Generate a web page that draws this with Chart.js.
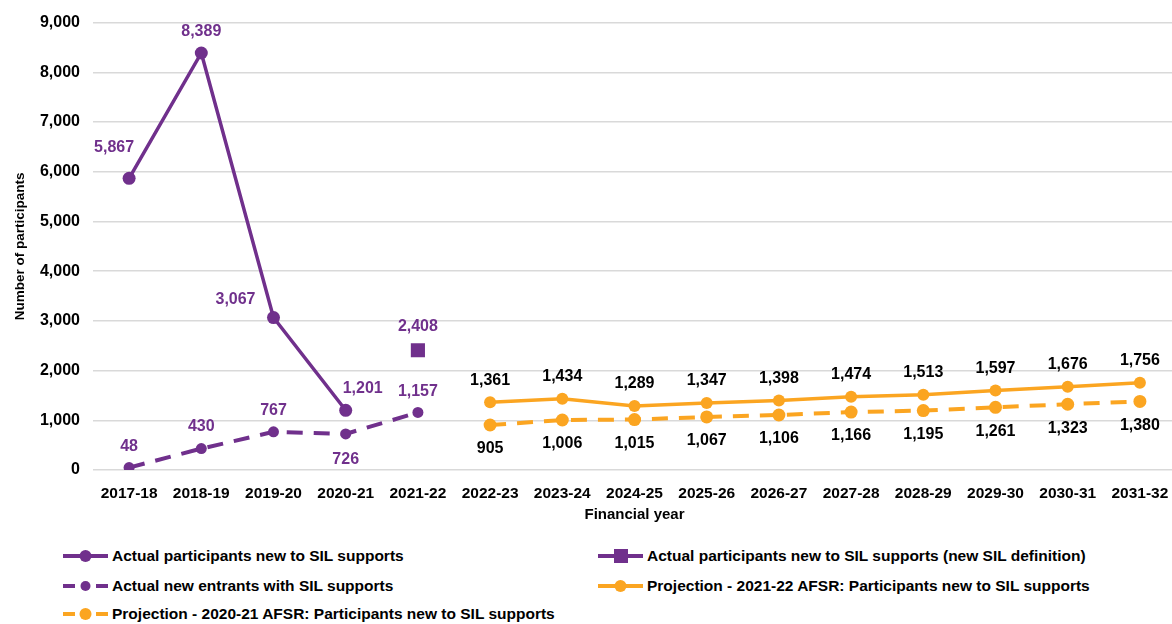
<!DOCTYPE html>
<html>
<head>
<meta charset="utf-8">
<script src="https://cdn.jsdelivr.net/npm/chart.js@4.4.0/dist/chart.umd.min.js"></script>
<style>
  body { margin: 0; background: #fff; font-family: "Liberation Sans", Arial, sans-serif; overflow: hidden; }
  #wrap { position: relative; width: 1172px; height: 624px; overflow: hidden; }
  #chart { position: absolute; left: 0; top: 0; }
  #legend { position: absolute; left: 0; top: 543px; width: 1172px; }
  .item { position: absolute; display: flex; align-items: center; font-weight: bold; font-size: 15.5px; color: #000; white-space: nowrap; }
  .item svg { margin-right: 4px; }
</style>
</head>
<body>
<div id="wrap">
  <canvas id="chart" width="1186" height="530"></canvas>
  <div id="legend"></div>
</div>
<script>
const years = ["2017-18", "2018-19", "2019-20", "2020-21", "2021-22", "2022-23", "2023-24", "2024-25",
  "2025-26", "2026-27", "2027-28", "2028-29", "2029-30", "2030-31", "2031-32"];
const actualNew = [5867, 8389, 3067, 1201, null, null, null, null, null, null, null, null, null, null, null];
const actualNewDef = [null, null, null, null, 2408, null, null, null, null, null, null, null, null, null, null];
const actualEntrants = [48, 430, 767, 726, 1157, null, null, null, null, null, null, null, null, null, null];
const proj2122 = [null, null, null, null, null, 1361, 1434, 1289, 1347, 1398, 1474, 1513, 1597, 1676, 1756];
const proj2021 = [null, null, null, null, null, 905, 1006, 1015, 1067, 1106, 1166, 1195, 1261, 1323, 1380];

const purple = "#70308C";
const orange = "#FBA521";

// label offsets (dx, dy) per point, per dataset
const labelPos = [
  [[-15, -31], [0, -21], [-38, -18], [17, -22]],
  [null, null, null, null, [0, -24]],
  [[0, -21], [0, -22], [0, -21], [0, 26], [0, -21]],
  "above",
  "below"
];

const pointLabels = {
  id: "pointLabels",
  afterDatasetsDraw(chart) {
    const ctx = chart.ctx;
    ctx.save();
    ctx.font = "bold 16px 'Liberation Sans', Arial, sans-serif";
    ctx.textAlign = "center";
    ctx.textBaseline = "middle";
    chart.data.datasets.forEach((ds, di) => {
      const meta = chart.getDatasetMeta(di);
      ctx.fillStyle = di < 3 ? purple : "#000";
      ds.data.forEach((v, i) => {
        if (v == null) return;
        const pt = meta.data[i];
        let off;
        const p = labelPos[di];
        if (p === "above") off = [0, -22];
        else if (p === "below") off = [0, 24];
        else off = p[i] || [0, -22];
        ctx.fillText(v.toLocaleString("en-US"), pt.x + off[0], pt.y + off[1]);
      });
    });
    ctx.restore();
  }
};

const chart = new Chart(document.getElementById("chart"), {
  type: "line",
  data: {
    labels: years,
    datasets: [
      {
        label: "Actual participants new to SIL supports",
        data: actualNew,
        borderColor: purple, backgroundColor: purple,
        borderWidth: 3.5, pointRadius: 6.5, pointBorderWidth: 0, pointStyle: "circle"
      },
      {
        label: "Actual participants new to SIL supports (new SIL definition)",
        data: actualNewDef,
        borderColor: purple, backgroundColor: purple,
        borderWidth: 3.5, pointRadius: 10, pointBorderWidth: 0, pointStyle: "rect"
      },
      {
        label: "Actual new entrants with SIL supports",
        data: actualEntrants,
        borderColor: purple, backgroundColor: purple,
        borderWidth: 4, borderDash: [16, 11], pointRadius: 5.5, pointBorderWidth: 0, pointStyle: "circle"
      },
      {
        label: "Projection - 2021-22 AFSR: Participants new to SIL supports",
        data: proj2122,
        borderColor: orange, backgroundColor: orange,
        borderWidth: 3.5, pointRadius: 6, pointBorderWidth: 0, pointStyle: "circle"
      },
      {
        label: "Projection - 2020-21 AFSR: Participants new to SIL supports",
        data: proj2021,
        borderColor: orange, backgroundColor: orange,
        borderWidth: 4, borderDash: [16, 11], pointRadius: 6.5, pointBorderWidth: 0, pointStyle: "circle"
      }
    ]
  },
  options: {
    responsive: false,
    animation: false,
    spanGaps: false,
    layout: { padding: { left: 0, right: 0, top: 21, bottom: 0 } },
    plugins: {
      legend: { display: false },
      tooltip: { enabled: false }
    },
    scales: {
      x: {
        offset: true,
        grid: { display: false },
        border: { display: false },
        ticks: { color: "#000", font: { family: "'Liberation Sans', Arial", size: 15.5, weight: "bold" }, maxRotation: 0, padding: 6 },
        title: { display: true, text: "Financial year", color: "#000", font: { family: "'Liberation Sans', Arial", size: 15, weight: "bold" }, padding: { top: 2, bottom: 6 } },
        afterFit(scale) { scale.height = 60; }
      },
      y: {
        min: 0, max: 9000,
        grid: { color: "#d9d9d9", lineWidth: 1.5, drawTicks: false },
        border: { display: false },
        ticks: {
          stepSize: 1000, color: "#000", padding: 13,
          font: { family: "'Liberation Sans', Arial", size: 16, weight: "bold" },
          callback: (v) => v.toLocaleString("en-US")
        },
        title: { display: true, text: "Number of participants", color: "#000", font: { family: "'Liberation Sans', Arial", size: 13.5, weight: "bold" }, padding: { top: 12, bottom: 0 } },
        afterFit(scale) { scale.width = 93; }
      }
    }
  },
  plugins: [pointLabels]
});

// legend in two columns, built from the datasets
const legendPlace = [[63, 13], [598, 13], [63, 43], [598, 43], [63, 71]];
const legend = document.getElementById("legend");
chart.data.datasets.forEach((ds, i) => {
  const dashed = !!ds.borderDash;
  const c = ds.borderColor;
  let line = dashed
    ? `<line x1="0" y1="8" x2="12" y2="8" stroke="${c}" stroke-width="4"/><line x1="33" y1="8" x2="45" y2="8" stroke="${c}" stroke-width="4"/>`
    : `<line x1="0" y1="8" x2="45" y2="8" stroke="${c}" stroke-width="4"/>`;
  let mark = ds.pointStyle === "rect"
    ? `<rect x="16" y="1" width="14" height="14" fill="${c}"/>`
    : `<circle cx="22.5" cy="8" r="${i === 2 ? 5 : 6}" fill="${c}"/>`;
  const el = document.createElement("div");
  el.className = "item";
  el.style.left = legendPlace[i][0] + "px";
  el.style.top = (legendPlace[i][1] - 9) + "px";
  el.innerHTML = `<svg width="45" height="16">${line}${mark}</svg><span>${ds.label}</span>`;
  legend.appendChild(el);
});
</script>
</body>
</html>
